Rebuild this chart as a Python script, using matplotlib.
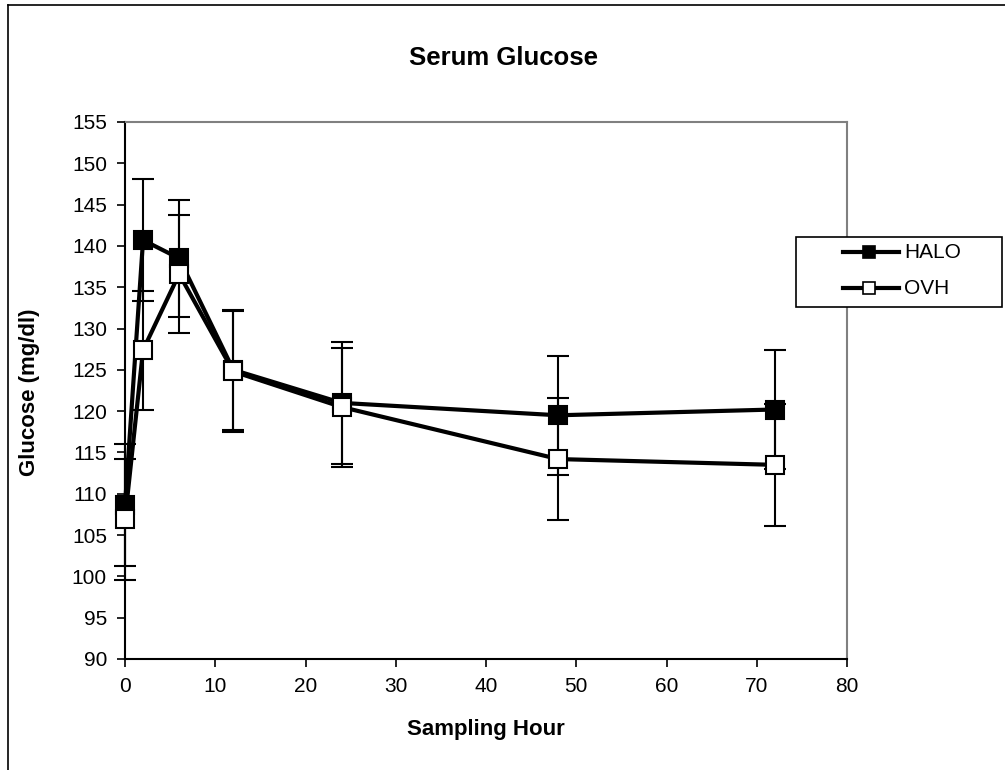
import matplotlib
matplotlib.use("Agg")
import matplotlib.pyplot as plt
from matplotlib.lines import Line2D
from matplotlib.patches import Rectangle

plt.rcParams['font.family'] = ['Liberation Sans', 'DejaVu Sans']

hours = [0, 2, 6, 12, 24, 48, 72]
halo = [108.6, 140.7, 138.5, 125.0, 121.0, 119.5, 120.2]
halo_err = [7.4, 7.4, 7.1, 7.3, 7.4, 7.2, 7.2]
ovh = [106.9, 127.4, 136.6, 124.8, 120.5, 114.2, 113.5]
ovh_err = [7.3, 7.2, 7.2, 7.3, 7.2, 7.4, 7.4]
series = ['HALO', 'OVH']

W, H = 1005, 770
def fx(px):
    return px / W
def fy(py):
    return 1 - py / H

fig = plt.figure(figsize=(10.05, 7.7), dpi=100)
ax = fig.add_axes([fx(125), fy(659), 722 / W, 537 / H])

# chart area frame (only left and top visible)
fig.add_artist(Line2D([fx(8), fx(8)], [0, fy(5)], color='black', lw=1.2))
fig.add_artist(Line2D([fx(8), 1], [fy(5), fy(5)], color='black', lw=1.2))

style = dict(color='black', lw=3, marker='s', markersize=13, markeredgecolor='black',
             markeredgewidth=1.5, ecolor='black', elinewidth=1.5, capsize=8, capthick=1.5)
ax.errorbar(hours, halo, yerr=halo_err, markerfacecolor='black', zorder=3, **style)
ax.errorbar(hours, ovh, yerr=ovh_err, markerfacecolor='white', zorder=4, **style)

ax.set_xlim(0, 80)
ax.set_ylim(90, 155)
ax.set_xticks(range(0, 81, 10))
ax.set_yticks(range(90, 156, 5))
ax.tick_params(axis='both', labelsize=15, direction='out', length=6, width=1.2, color='black')
ax.tick_params(axis='y', pad=7)
ax.tick_params(axis='x', pad=7)

for s in ['left', 'bottom']:
    ax.spines[s].set_color('black')
    ax.spines[s].set_linewidth(1.5)
for s in ['right', 'top']:
    ax.spines[s].set_color('#808080')
    ax.spines[s].set_linewidth(1.5)
for s in ax.spines.values():
    s.set_zorder(1)

for c in ax.get_children():
    if hasattr(c, 'set_clip_on'):
        c.set_clip_on(False)

fig.text(fx(503), fy(58), 'Serum Glucose', ha='center', va='center',
         fontsize=18.5, fontweight='bold')
fig.text(fx(486), fy(730), 'Sampling Hour', ha='center', va='center',
         fontsize=16, fontweight='bold')
fig.text(fx(30), fy(392), 'Glucose (mg/dl)', ha='center', va='center',
         rotation=90, fontsize=16, fontweight='bold')

# legend box
fig.add_artist(Rectangle((fx(796), fy(307)), 206 / W, 70 / H, transform=fig.transFigure,
                         facecolor='white', edgecolor='black', lw=1.2, zorder=5))
for i, (name, fc) in enumerate(zip(series, ['black', 'white'])):
    yy = fy(252 + i * 36)
    fig.add_artist(Line2D([fx(843), fx(899)], [yy, yy], color='black', lw=3, zorder=6))
    fig.add_artist(Line2D([fx(869)], [yy], marker='s', markersize=8.5, markerfacecolor=fc,
                          markeredgecolor='black', markeredgewidth=1.2, zorder=7))
    fig.text(fx(904), yy, name, ha='left', va='center', fontsize=15, zorder=7)

fig.savefig('out.png', dpi=100, facecolor='white')
